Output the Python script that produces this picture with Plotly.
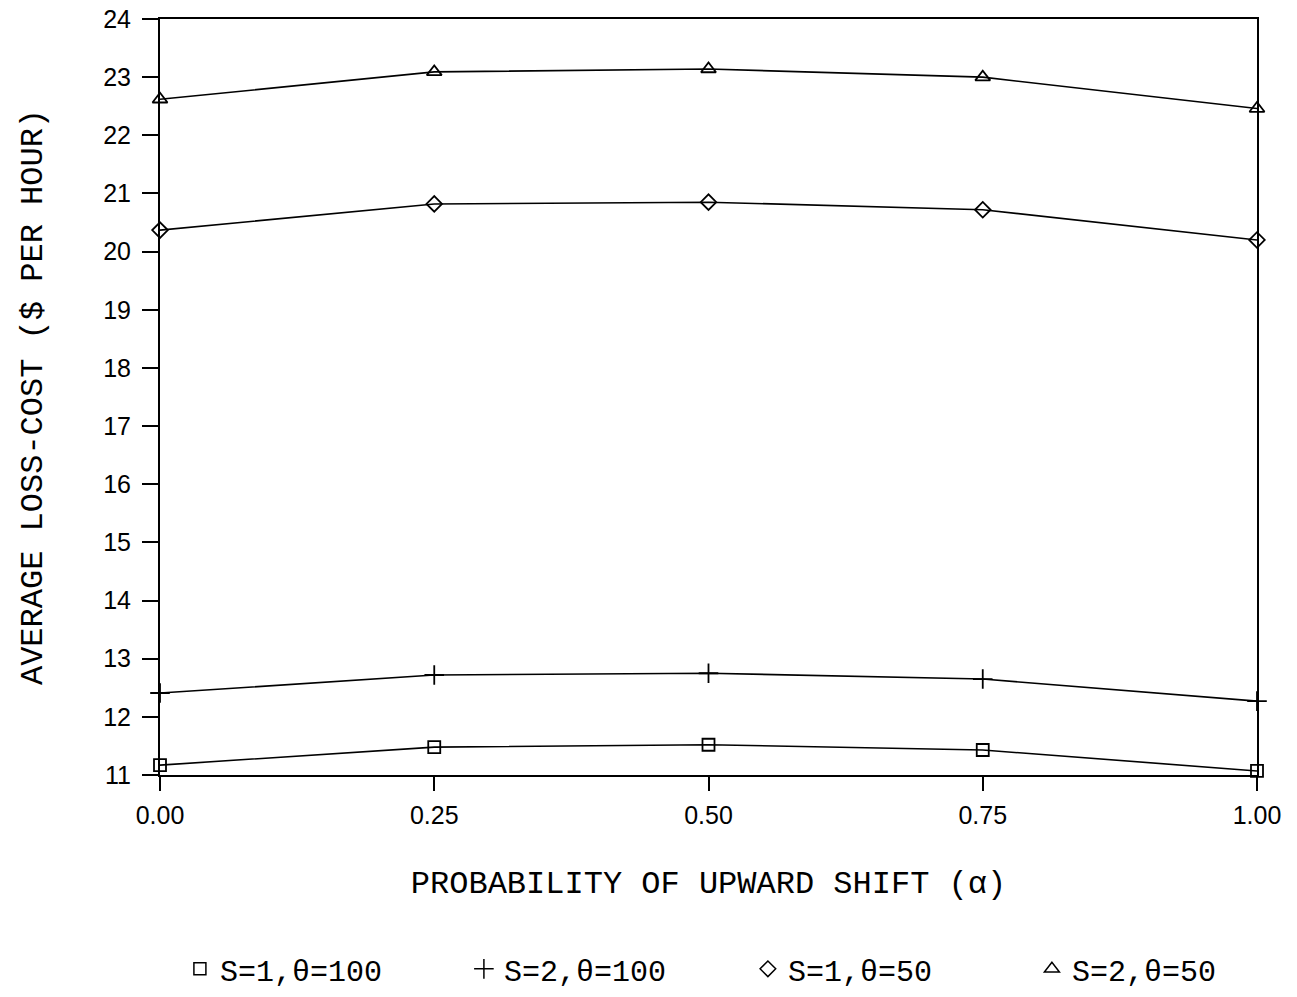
import plotly.graph_objects as go

alpha = [0.00, 0.25, 0.50, 0.75, 1.00]
s1_t100 = [11.17, 11.48, 11.52, 11.43, 11.07]
s2_t100 = [12.41, 12.72, 12.75, 12.65, 12.27]
s1_t50 = [20.37, 20.82, 20.85, 20.72, 20.20]
s2_t50 = [22.62, 23.09, 23.14, 23.00, 22.46]

series = [
    ("S=1,θ=100", s1_t100, "square-open", 12),
    ("S=2,θ=100", s2_t100, "cross-thin-open", 14),
    ("S=1,θ=50", s1_t50, "diamond-open", 12),
    ("S=2,θ=50", s2_t50, "triangle-up-open", 13),
]

x_ticks = [0.00, 0.25, 0.50, 0.75, 1.00]
x_ticktext = ["0.00", "0.25", "0.50", "0.75", "1.00"]
y_ticks = list(range(11, 25))

mono = "Liberation Mono, Courier New, monospace"
sans = "Liberation Sans, Arial, sans-serif"

fig = go.Figure()
for name, vals, sym, size in series:
    fig.add_trace(go.Scatter(
        x=alpha, y=vals, mode="lines+markers", name=name,
        line=dict(color="black", width=1.6),
        marker=dict(symbol=sym, size=size, color="black",
                    line=dict(color="black", width=1.8)),
        showlegend=False, cliponaxis=False,
    ))
    fig.add_trace(go.Scatter(
        x=[None], y=[None], mode="markers", name=name,
        marker=dict(symbol=sym, size=size, color="black",
                    line=dict(color="black", width=1.5)),
        showlegend=True,
    ))

fig.update_layout(
    width=1297, height=997,
    margin=dict(l=160, r=40, t=19, b=222, autoexpand=False),
    paper_bgcolor="white", plot_bgcolor="white",
    font=dict(family=sans, color="black", size=20),
    legend=dict(
        orientation="h", x=-0.001, xanchor="left", y=-0.222, yanchor="top",
        font=dict(family=mono, size=30, color="black"),
        entrywidth=218, entrywidthmode="pixels",
        indentation=21,
        itemsizing="trace",
    ),
    xaxis=dict(
        range=[0, 1], tickvals=x_ticks, ticktext=x_ticktext,
        showgrid=False, zeroline=False, automargin=False,
        showline=True, linecolor="black", linewidth=2, mirror=True,
        ticks="outside", ticklen=14, tickwidth=2, tickcolor="black",
        ticklabelstandoff=3, ticklabeloverflow="allow",
        tickfont=dict(family=sans, size=25),
        title=dict(text="PROBABILITY OF UPWARD SHIFT (α)",
                   font=dict(family=mono, size=32), standoff=43),
    ),
    yaxis=dict(
        range=[11, 24], tickvals=y_ticks,
        showgrid=False, zeroline=False, automargin=False,
        showline=True, linecolor="black", linewidth=2, mirror=True,
        ticks="outside", ticklen=16, tickwidth=2, tickcolor="black",
        ticklabelstandoff=6, ticklabeloverflow="allow",
        tickfont=dict(family=sans, size=25),
        title=dict(text="AVERAGE LOSS-COST ($ PER HOUR)",
                   font=dict(family=mono, size=32), standoff=51),
    ),
)

fig.write_html("out.html", config={"displayModeBar": False},
               post_script="document.body.style.margin='0px';")
